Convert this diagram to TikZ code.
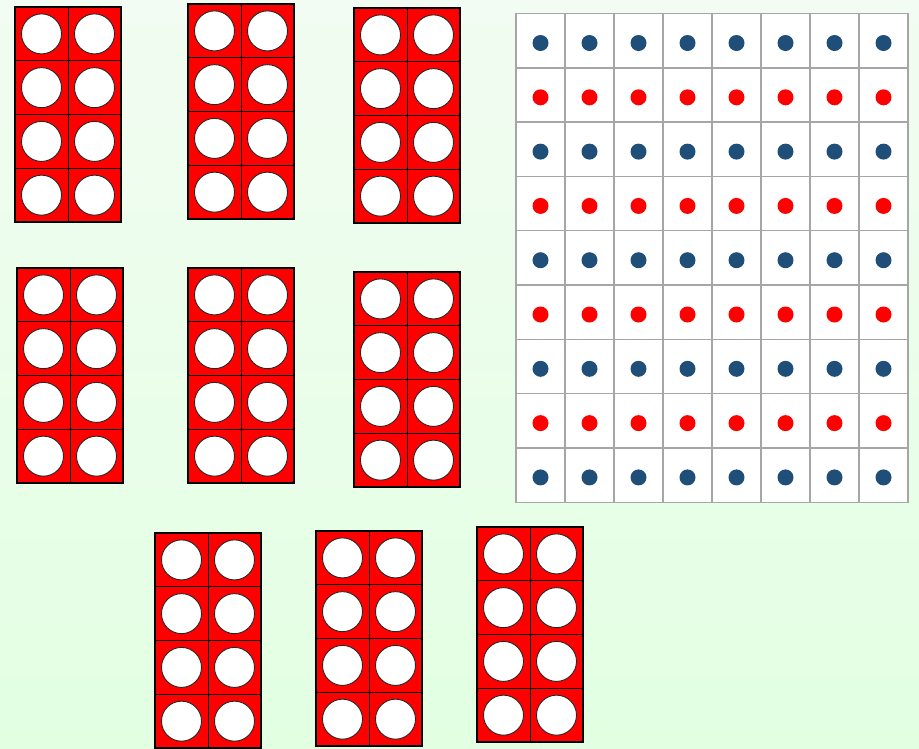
\documentclass[tikz,border=0pt]{standalone}
\definecolor{bgtop}{RGB}{242,252,242}
\definecolor{bgbottom}{RGB}{226,255,226}
\definecolor{dotblue}{RGB}{31,78,121}
\definecolor{gridgrey}{RGB}{166,166,166}
\tikzset{
  framecell/.style={fill=red, draw=black, line width=0.6pt},
  frameedge/.style={draw=black, line width=1.1pt},
  counter/.style={fill=white, draw=black!85, line width=0.9pt},
  gridcell/.style={fill=white, draw=gridgrey, line width=1.4pt},
}
\begin{document}
\begin{tikzpicture}[x=1pt, y=-1pt]
    \shade[top color=bgtop, bottom color=bgbottom] (0,0) rectangle (919,748);
    \useasboundingbox (0,0) rectangle (919,748);
    % eight frames
    \foreach \bx/\by in {15/7, 188/4, 354/8, 17/268, 188/268, 354/272, 155/533, 316/531, 477/527} {
      \foreach \c in {0,1}
        \foreach \r in {0,...,3} {
          \path[framecell] (\bx+\c*53, \by+\r*53.75) rectangle ++(53,53.75);
          \path[counter] (\bx+\c*53+26.5, \by+\r*53.75+26.9) circle (20pt);
        }
      \path[frameedge] (\bx,\by) rectangle ++(106,215);
    }
    % dot grid
    \foreach \c in {0,...,7}
      \foreach \r in {0,...,8}
        \path[gridcell] (516+\c*49, 13.5+\r*54.3) rectangle ++(49,54.3);
    \foreach \c in {0,...,7}
      \foreach \r in {0,...,8} {
        \pgfmathsetmacro{\dotcol}{mod(\r,2)==0 ? "dotblue" : "red"}
        \fill[\dotcol] (540.5+\c*49, 13.5+\r*54.3+29.5) circle (8pt);
      }
\end{tikzpicture}
\end{document}
